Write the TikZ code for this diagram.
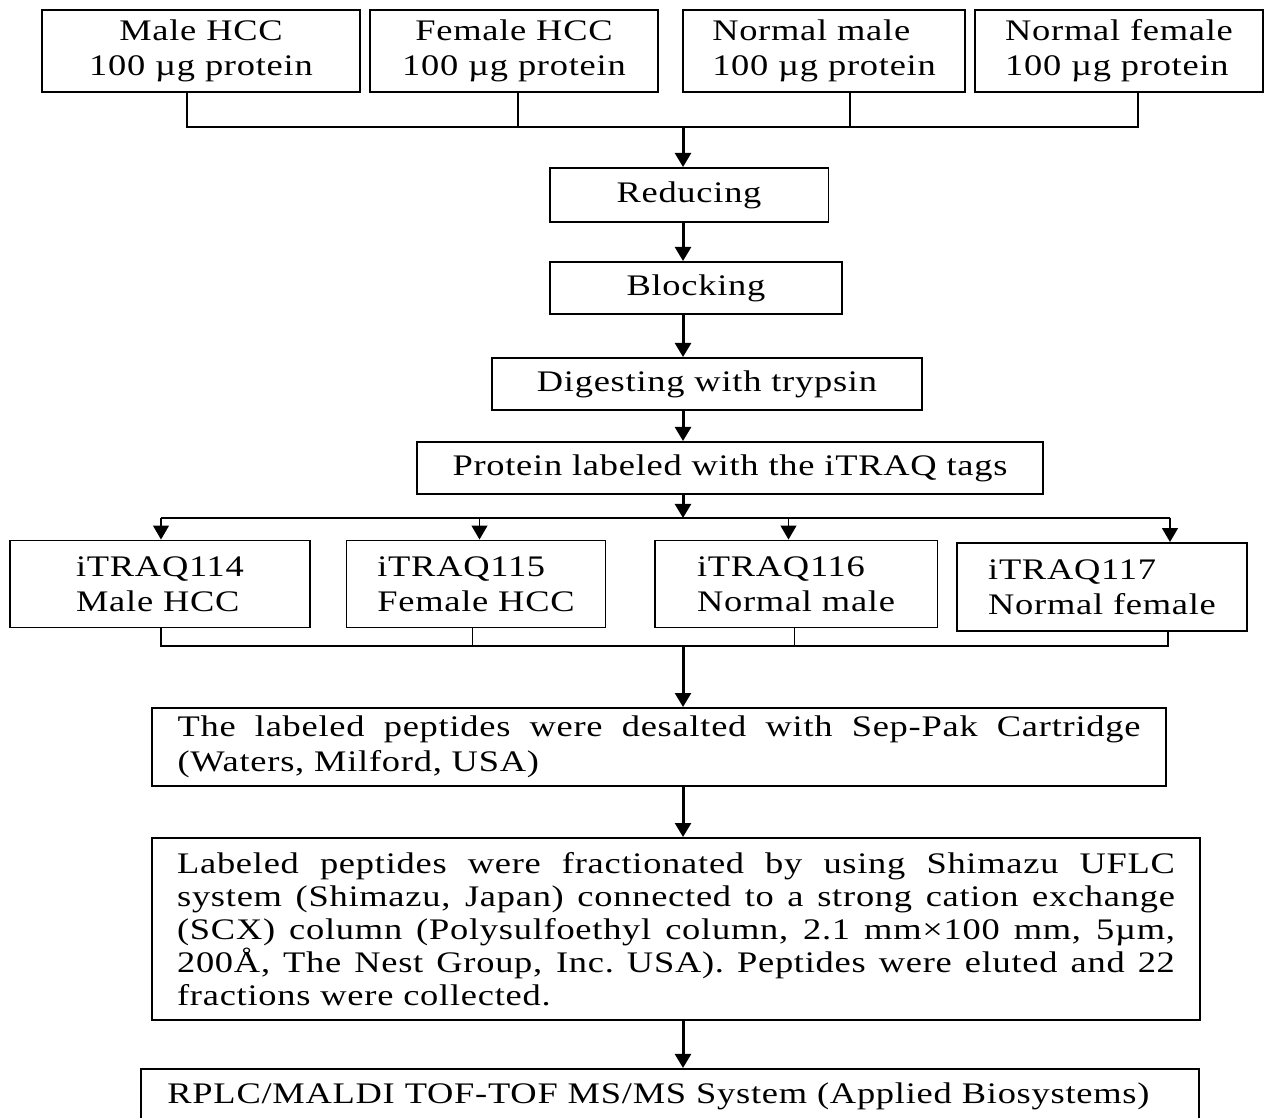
\documentclass[tikz,border=0pt]{standalone}
\usepackage{fontspec}
\setmainfont[FakeStretch=1.22,LetterSpace=2.5]{Liberation Serif}
\usetikzlibrary{arrows.meta}

\begin{document}
\begin{tikzpicture}[x=0.02cm, y=-0.02cm,
  box/.style={draw, line width=1.1pt, inner sep=0pt, font=\fontsize{17}{19.8}\selectfont},
  line/.style={line width=1.1pt},
  arr/.style={line width=1.7pt, -{Triangle[width=9pt,length=8pt]}},
  tip/.style={line width=1.1pt, -{Triangle[width=9pt,length=8pt]}}
]
\useasboundingbox (0,0) rectangle (1266,1117);
% samples
\node[box, minimum width=6.36cm, minimum height=1.64cm, align=center] (mhcc) at (201,51) {Male HCC\\100 µg protein};
\node[box, minimum width=5.76cm, minimum height=1.64cm, align=center] (fhcc) at (514,51) {Female HCC\\100 µg protein};
\node[box, minimum width=5.64cm, minimum height=1.64cm, align=left] (nmale) at (824,51) {Normal male\\100 µg protein};
\node[box, minimum width=5.76cm, minimum height=1.64cm, align=left] (nfem) at (1119,51) {Normal female\\100 µg protein};
% steps
\node[box, minimum width=5.58cm, minimum height=1.08cm] (reduce) at (689,195) {Reducing};
\node[box, minimum width=5.84cm, minimum height=1.04cm] (block) at (696,288) {Blocking};
\node[box, minimum width=8.6cm, minimum height=1.04cm] (digest) at (707,384) {Digesting with trypsin};
\node[box, minimum width=12.52cm, minimum height=1.04cm] (label) at (730,468) {Protein labeled with the iTRAQ tags};
% tags
\node[box, minimum width=6cm, minimum height=1.74cm, align=left] (i114) at (160,584) {iTRAQ114\\Male HCC};
\node[box, minimum width=5.18cm, minimum height=1.74cm, align=left] (i115) at (476,584) {iTRAQ115\\Female HCC};
\node[box, minimum width=5.66cm, minimum height=1.74cm, align=left] (i116) at (796,584) {iTRAQ116\\Normal male};
\node[box, minimum width=5.8cm, minimum height=1.76cm, align=left] (i117) at (1102,587) {iTRAQ117\\Normal female};
% analysis
\node[box, minimum width=20.28cm, minimum height=1.56cm, text width=19.26cm, align=justify] (desalt) at (659,747)
  {The labeled peptides were desalted with Sep-Pak Cartridge\linebreak (Waters, Milford, USA)};
\node[box, minimum width=20.98cm, minimum height=3.64cm, text width=19.96cm, align=justify,
  font=\fontsize{17}{18.7}\selectfont] (fraction) at (676,929)
  {Labeled peptides were fractionated by using Shimazu UFLC\linebreak
   system (Shimazu, Japan) connected to a strong cation exchange\linebreak
   (SCX) column (Polysulfoethyl column, 2.1 mm×100 mm, 5µm,\linebreak
   200Å, The Nest Group, Inc.\ USA). Peptides were eluted and 22\linebreak
   fractions were collected.};
\node[box, anchor=north west, minimum width=21.16cm, minimum height=1.1cm, text width=20.1cm, align=left] (rplc) at (140,1068)
  {RPLC/MALDI TOF-TOF MS/MS System (Applied Biosystems)};

\coordinate (jtop) at (683,127);
\coordinate (jmid) at (683,518);
\coordinate (jbot) at (683,646);

\draw[line] ([xshift=-0.28cm]mhcc.south) |- (jtop) -| ([xshift=0.38cm]nfem.south);
\draw[line] ([xshift=0.08cm]fhcc.south) -- ([xshift=0.08cm]fhcc.south |- jtop);
\draw[line] ([xshift=0.52cm]nmale.south) -- ([xshift=0.52cm]nmale.south |- jtop);
\draw[arr] (jtop) -- (jtop |- reduce.north);
\draw[arr] (jtop |- reduce.south) -- (jtop |- block.north);
\draw[arr] (jtop |- block.south) -- (jtop |- digest.north);
\draw[arr] (jtop |- digest.south) -- (jtop |- label.north);
\draw[arr] (jtop |- label.south) -- (jmid);

\draw[line] ([xshift=0.02cm]i114.north |- jmid) -- ([xshift=1.36cm]i117.north |- jmid);
\foreach \n/\dx in {i114/0.02, i115/0.07, i116/-0.15, i117/1.36}
  \draw[tip] ([xshift=\dx cm]\n.north |- jmid) -- ([xshift=\dx cm]\n.north);

\draw[line] ([xshift=0.02cm]i114.south) |- (jbot) -| ([xshift=1.32cm]i117.south);
\draw[line] ([xshift=-0.07cm]i115.south) -- ([xshift=-0.07cm]i115.south |- jbot);
\draw[line] ([xshift=-0.03cm]i116.south) -- ([xshift=-0.03cm]i116.south |- jbot);
\draw[arr] (jbot) -- (jbot |- desalt.north);
\draw[arr] (jbot |- desalt.south) -- (jbot |- fraction.north);
\draw[arr] (jbot |- fraction.south) -- (jbot |- rplc.north);
\end{tikzpicture}
\end{document}
